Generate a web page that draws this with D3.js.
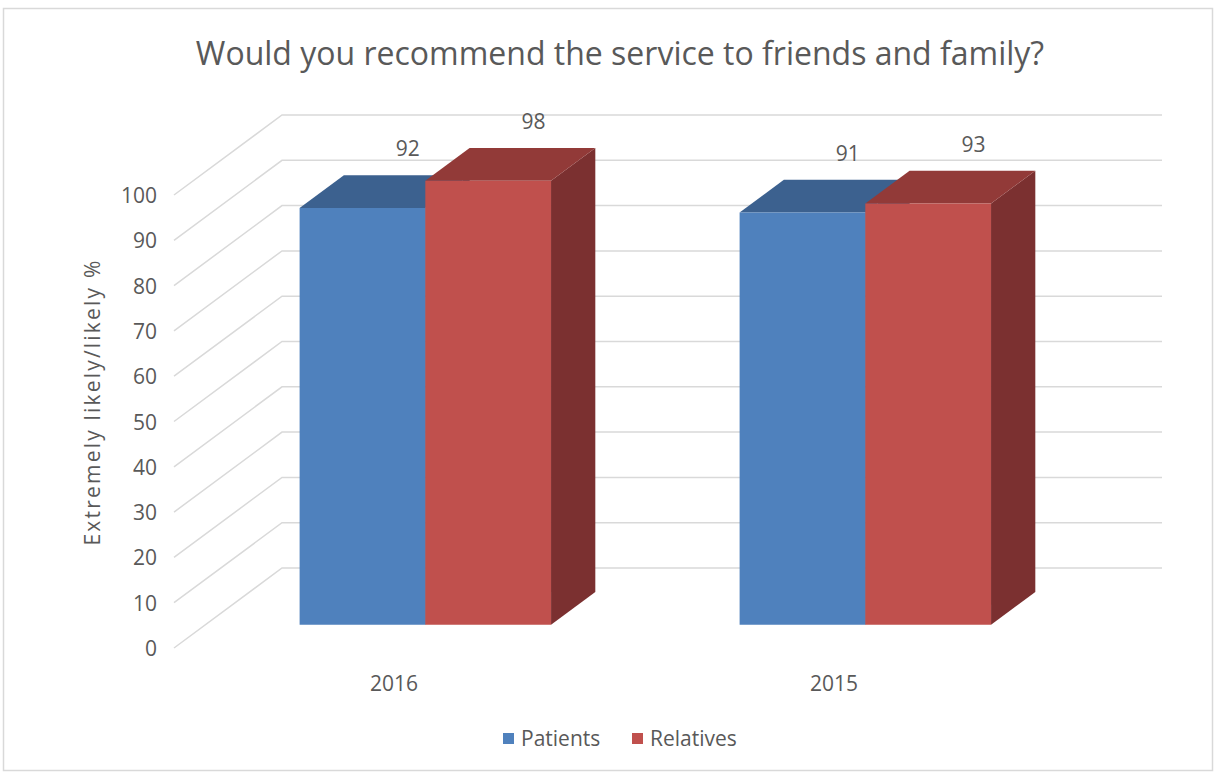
<!DOCTYPE html>
<html>
<head>
<meta charset="utf-8">
<script src="https://cdn.jsdelivr.net/npm/d3@7"></script>
<style>
  body { margin: 0; background: #fff; }
  text { font-family: "Open Sans", "Noto Sans", sans-serif; fill: #595959; }
</style>
</head>
<body>
<svg id="chart" width="1216" height="774"></svg>
<script>
// data
const categories = ["2016", "2015"];
const series = ["Patients", "Relatives"];
const values = {
  Patients: [92, 91],
  Relatives: [98, 93]
};
const yTicks = [0, 10, 20, 30, 40, 50, 60, 70, 80, 90, 100];

const colors = {
  Patients: { front: "#4F81BD", top: "#3C618F", side: "#33537B" },
  Relatives: { front: "#C0504D", top: "#923A38", side: "#7B3030" }
};

svg = d3.select("#chart");

// border
svg.append("rect")
  .attr("x", 3.5).attr("y", 8.5)
  .attr("width", 1209).attr("height", 762)
  .attr("fill", "none").attr("stroke", "#D9D9D9").attr("stroke-width", 1.5);

// 3d geometry: front-left floor corner, wall depth offset
const x0 = 174, y0 = 648;
const depthX = 108, depthY = 80;
const floorW = 880;

y = d3.scaleLinear().domain([0, 100]).range([0, 453]);
x = d3.scaleBand().domain(categories).range([0, floorW]);
xs = d3.scaleBand().domain(series).range([0, x.bandwidth()]).paddingOuter(0.75);

// project (floor x, value, depth 0..1) to screen
function proj(fx, v, t) {
  return [x0 + fx + t * depthX, y0 - y(v) - t * depthY];
}

// gridlines: side wall diagonals + back wall lines
const grid = svg.append("g").attr("stroke", "#D9D9D9").attr("stroke-width", 1.5).attr("fill", "none");
yTicks.forEach(v => {
  const a = proj(0, v, 0), b = proj(0, v, 1), c = proj(floorW, v, 1);
  grid.append("path").attr("d", d3.line()([a, b, c]));
});

// y tick labels
svg.append("g").selectAll("text")
  .data(yTicks)
  .enter().append("text")
    .attr("x", 157)
    .attr("y", d => proj(0, d, 0)[1])
    .attr("text-anchor", "end")
    .attr("dominant-baseline", "central")
    .attr("font-size", 21)
    .text(d => d);

// bars
const t0 = 0.29, t1 = 0.70;
const bars = svg.append("g");
categories.forEach((cat, ci) => {
  series.forEach(s => {
    const v = values[s][ci];
    const xl = x(cat) + xs(s), xr = xl + xs.bandwidth();
    const col = colors[s];
    const poly = pts => d3.line()(pts) + "Z";
    // side
    bars.append("path")
      .attr("d", poly([proj(xr, 0, t0), proj(xr, v, t0), proj(xr, v, t1), proj(xr, 0, t1)]))
      .attr("fill", col.side);
    // top
    bars.append("path")
      .attr("d", poly([proj(xl, v, t0), proj(xr, v, t0), proj(xr, v, t1), proj(xl, v, t1)]))
      .attr("fill", col.top);
    // front
    bars.append("path")
      .attr("d", poly([proj(xl, 0, t0), proj(xr, 0, t0), proj(xr, v, t0), proj(xl, v, t0)]))
      .attr("fill", col.front);
    // value label
    const lp = proj((xl + xr) / 2, v, t1);
    bars.append("text")
      .attr("x", lp[0] + 1)
      .attr("y", lp[1] - 27)
      .attr("text-anchor", "middle")
      .attr("dominant-baseline", "central")
      .attr("font-size", 21)
      .text(v);
  });
});

// category labels
svg.append("g").selectAll("text")
  .data(categories)
  .enter().append("text")
    .attr("x", d => x0 + x(d) + x.bandwidth() / 2)
    .attr("y", 683)
    .attr("text-anchor", "middle")
    .attr("dominant-baseline", "central")
    .attr("font-size", 21)
    .text(d => d);

// title
svg.append("text")
  .attr("x", 620).attr("y", 52)
  .attr("text-anchor", "middle")
  .attr("dominant-baseline", "central")
  .attr("font-size", 32)
  .text("Would you recommend the service to friends and family?");

// axis title
svg.append("text")
  .attr("transform", "translate(92,402) rotate(-90)")
  .attr("text-anchor", "middle")
  .attr("dominant-baseline", "central")
  .attr("font-size", 21)
  .attr("letter-spacing", 2.2)
  .text("Extremely likely/likely %");

// legend
const legend = svg.append("g");
const legendX = [503, 632];
series.forEach((s, i) => {
  legend.append("rect")
    .attr("x", legendX[i]).attr("y", 733)
    .attr("width", 11).attr("height", 11)
    .attr("fill", colors[s].front);
  legend.append("text")
    .attr("x", legendX[i] + 18).attr("y", 738)
    .attr("dominant-baseline", "central")
    .attr("font-size", 21)
    .text(s);
});
</script>
</body>
</html>
